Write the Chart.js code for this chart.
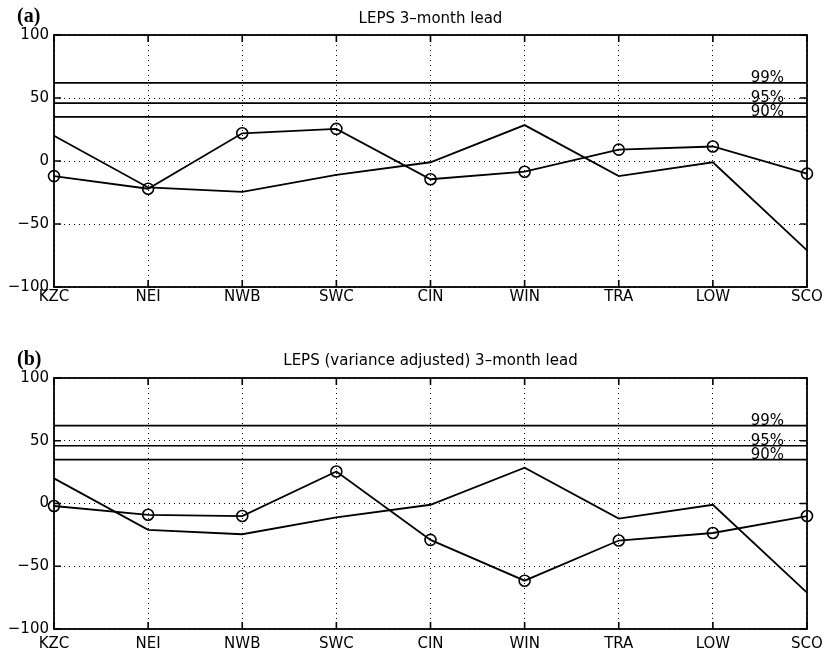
<!DOCTYPE html>
<html>
<head>
<meta charset="utf-8">
<script src="https://cdn.jsdelivr.net/npm/chart.js@4.4.1/dist/chart.umd.min.js"></script>
<style>
  body { margin: 0; background: #fff; }
  #wrap { position: relative; width: 824px; height: 653px; }
  canvas { position: absolute; left: 0; }
  #chartA { top: 0; }
  #chartB { top: 320px; }
</style>
</head>
<body>
<div id="wrap">
  <canvas id="chartA" width="824" height="320"></canvas>
  <canvas id="chartB" width="824" height="333"></canvas>
</div>
<script>
// Regions and values
const categories = ['KZC', 'NEI', 'NWB', 'SWC', 'CIN', 'WIN', 'TRA', 'LOW', 'SCO'];
const lepsA = [-12, -22, 22, 25.5, -14.5, -8.5, 9, 11.5, -10];
const lepsB = [-2, -9, -10, 25.5, -29, -61.5, -29.5, -23.5, -10];
const reference = [20, -21, -24.5, -11, -1, 28.5, -12, -1, -71];
const thresholds = [62, 46, 35];
const thresholdLabels = ['99%', '95%', '90%'];
const yTicks = [-100, -50, 0, 50, 100];

// box, inward ticks, significance lines, titles
const matlabLook = {
    id: 'matlabLook',
    afterDatasetsDraw(chart, args, opts) {
        const { ctx, chartArea: a, scales } = chart;
        const x = scales.x, y = scales.y;
        ctx.save();
        ctx.strokeStyle = '#000';

        // significance levels
        ctx.lineWidth = 1.7;
        thresholds.forEach((t, i) => {
            const py = y.getPixelForValue(t);
            ctx.beginPath();
            ctx.moveTo(a.left, py);
            ctx.lineTo(a.right, py);
            ctx.stroke();
            ctx.fillStyle = '#000';
            ctx.font = '15px "DejaVu Sans"';
            ctx.textAlign = 'right';
            ctx.textBaseline = 'alphabetic';
            ctx.fillText(thresholdLabels[i], a.right - 23, py - 1);
        });

        // inward tick marks
        ctx.lineWidth = 1.6;
        const len = 7;
        categories.forEach((c, i) => {
            const px = x.getPixelForValue(i);
            ctx.beginPath();
            ctx.moveTo(px, a.top); ctx.lineTo(px, a.top + len);
            ctx.moveTo(px, a.bottom); ctx.lineTo(px, a.bottom - len);
            ctx.stroke();
        });
        yTicks.forEach(v => {
            const py = y.getPixelForValue(v);
            ctx.beginPath();
            ctx.moveTo(a.left, py); ctx.lineTo(a.left + len, py);
            ctx.moveTo(a.right, py); ctx.lineTo(a.right - len, py);
            ctx.stroke();
        });

        // box
        ctx.lineWidth = 1.8;
        ctx.strokeRect(a.left, a.top, a.right - a.left, a.bottom - a.top);

        // titles
        ctx.fillStyle = '#000';
        ctx.textBaseline = 'alphabetic';
        ctx.textAlign = 'center';
        ctx.font = '15px "DejaVu Sans"';
        ctx.fillText(opts.title, (a.left + a.right) / 2, opts.titleY);
        ctx.textAlign = 'left';
        ctx.font = 'bold 20px "Liberation Serif"';
        ctx.fillText(opts.letter, 17, opts.letterY);
        ctx.restore();
    }
};

function makeChart(id, circles, o) {
    const ctx = document.getElementById(id).getContext('2d');
    return new Chart(ctx, {
        type: 'line',
        data: {
            labels: categories,
            datasets: [
                {
                    data: circles,
                    borderColor: '#000',
                    borderWidth: 1.8,
                    pointRadius: 5.5,
                    pointBorderWidth: 1.6,
                    pointBorderColor: '#000',
                    pointBackgroundColor: 'rgba(0,0,0,0)',
                    tension: 0,
                    clip: false
                },
                {
                    data: reference,
                    borderColor: '#000',
                    borderWidth: 1.8,
                    pointRadius: 0,
                    tension: 0,
                    clip: false
                }
            ]
        },
        options: {
            responsive: false,
            animation: false,
            layout: { padding: { left: 0, right: 17, top: o.top, bottom: 0 } },
            plugins: {
                legend: { display: false },
                tooltip: { enabled: false },
                matlabLook: { title: o.title, letter: o.letter, titleY: o.titleY, letterY: o.letterY }
            },
            scales: {
                x: {
                    offset: false,
                    grid: { color: '#000', lineWidth: 1, drawTicks: false },
                    border: { display: false, dash: [1, 4] },
                    ticks: {
                        color: '#000',
                        font: { family: 'DejaVu Sans', size: 15 },
                        padding: o.xPad,
                        maxRotation: 0,
                        autoSkip: false
                    },
                    afterFit(scale) {
                        scale.height = o.xHeight;
                        scale.paddingLeft = 0;
                        scale.paddingRight = 0;
                    }
                },
                y: {
                    min: -100,
                    max: 100,
                    grid: { color: '#000', lineWidth: 1, drawTicks: false },
                    border: { display: false, dash: [1, 4] },
                    ticks: {
                        stepSize: 50,
                        color: '#000',
                        font: { family: 'DejaVu Sans', size: 15 },
                        padding: 5,
                        callback: v => String(v).replace('-', '\u2212')
                    },
                    afterFit(scale) { scale.width = 54; }
                }
            }
        },
        plugins: [matlabLook]
    });
}

makeChart('chartA', lepsA, {
    top: 35, xHeight: 33, xPad: 1,
    title: 'LEPS 3\u2013month lead', titleY: 23,
    letter: '(a)', letterY: 22
});
makeChart('chartB', lepsB, {
    top: 58, xHeight: 24, xPad: 6,
    title: 'LEPS (variance adjusted) 3\u2013month lead', titleY: 45,
    letter: '(b)', letterY: 45
});
</script>
</body>
</html>
